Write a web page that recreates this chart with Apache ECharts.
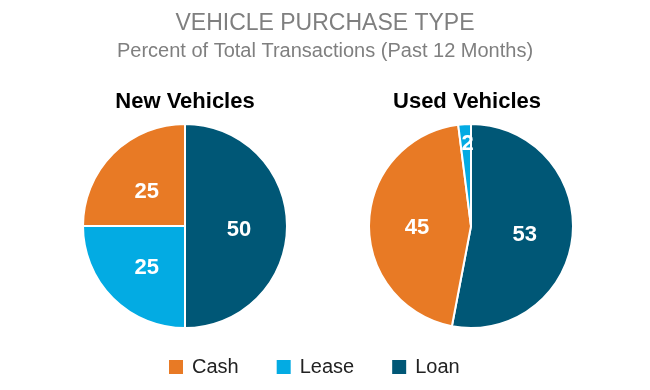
<!DOCTYPE html>
<html>
<head>
<meta charset="utf-8">
<script src="https://cdn.jsdelivr.net/npm/echarts@6/dist/echarts.min.js"></script>
<style>html,body{margin:0;padding:0;background:#fff;}#c{width:650px;height:390px;}</style>
</head>
<body>
<div id="c"></div>
<script>
var categories = ['Cash', 'Lease', 'Loan'];
var newOrder = ['Loan', 'Lease', 'Cash'];
var newValues = [50, 25, 25];
var usedOrder = ['Loan', 'Cash', 'Lease'];
var usedValues = [53, 45, 2];
var colors = {Cash: '#E87A25', Lease: '#03ABE3', Loan: '#005776'};
var FONT = '"Liberation Sans", Arial, sans-serif';

function buildData(names, vals) {
  return names.map(function (n, i) {
    return {name: n, value: vals[i], itemStyle: {color: colors[n]}};
  });
}

var chart = echarts.init(document.getElementById('c'), null, {renderer: 'canvas'});
var labelStyle = {show: true, position: 'inside', formatter: '{c}', color: '#fff', fontSize: 22, fontWeight: 'bold', fontFamily: FONT};
chart.setOption({
  animation: false,
  title: [
    {text: 'VEHICLE PURCHASE TYPE', subtext: 'Percent of Total Transactions (Past 12 Months)', left: 'center', top: 7, itemGap: 6,
     textStyle: {fontSize: 23, fontWeight: 'normal', color: '#7f7f7f', fontFamily: FONT},
     subtextStyle: {fontSize: 20, color: '#7f7f7f', fontFamily: FONT}},
    {text: 'New Vehicles', left: 180, top: 86, textAlign: 'center', textStyle: {fontSize: 22, fontWeight: 'bold', color: '#000', fontFamily: FONT}},
    {text: 'Used Vehicles', left: 462, top: 86, textAlign: 'center', textStyle: {fontSize: 22, fontWeight: 'bold', color: '#000', fontFamily: FONT}}
  ],
  legend: {
    data: categories, bottom: 8, left: 162, icon: 'rect', itemWidth: 16, itemHeight: 16, itemGap: 36,
    textStyle: {fontSize: 20, color: '#222', fontFamily: FONT, padding: [0, 0, 0, 3]}
  },
  series: [
    {type: 'pie', center: [185, 226], radius: [0, 102], startAngle: 90, clockwise: true,
     itemStyle: {borderColor: '#fff', borderWidth: 2}, label: labelStyle, labelLine: {show: false},
     emphasis: {disabled: true}, data: buildData(newOrder, newValues),
     labelLayout: function () { return {dy: 4}; }},
    {type: 'pie', center: [471, 226], radius: [0, 102], startAngle: 90, clockwise: true,
     itemStyle: {borderColor: '#fff', borderWidth: 2}, label: labelStyle, labelLine: {show: false},
     emphasis: {disabled: true}, data: buildData(usedOrder, usedValues),
     labelLayout: function (p) { return p.dataIndex === 2 ? {dy: -28} : {dy: 4}; }}
  ]
});
</script>
</body>
</html>
